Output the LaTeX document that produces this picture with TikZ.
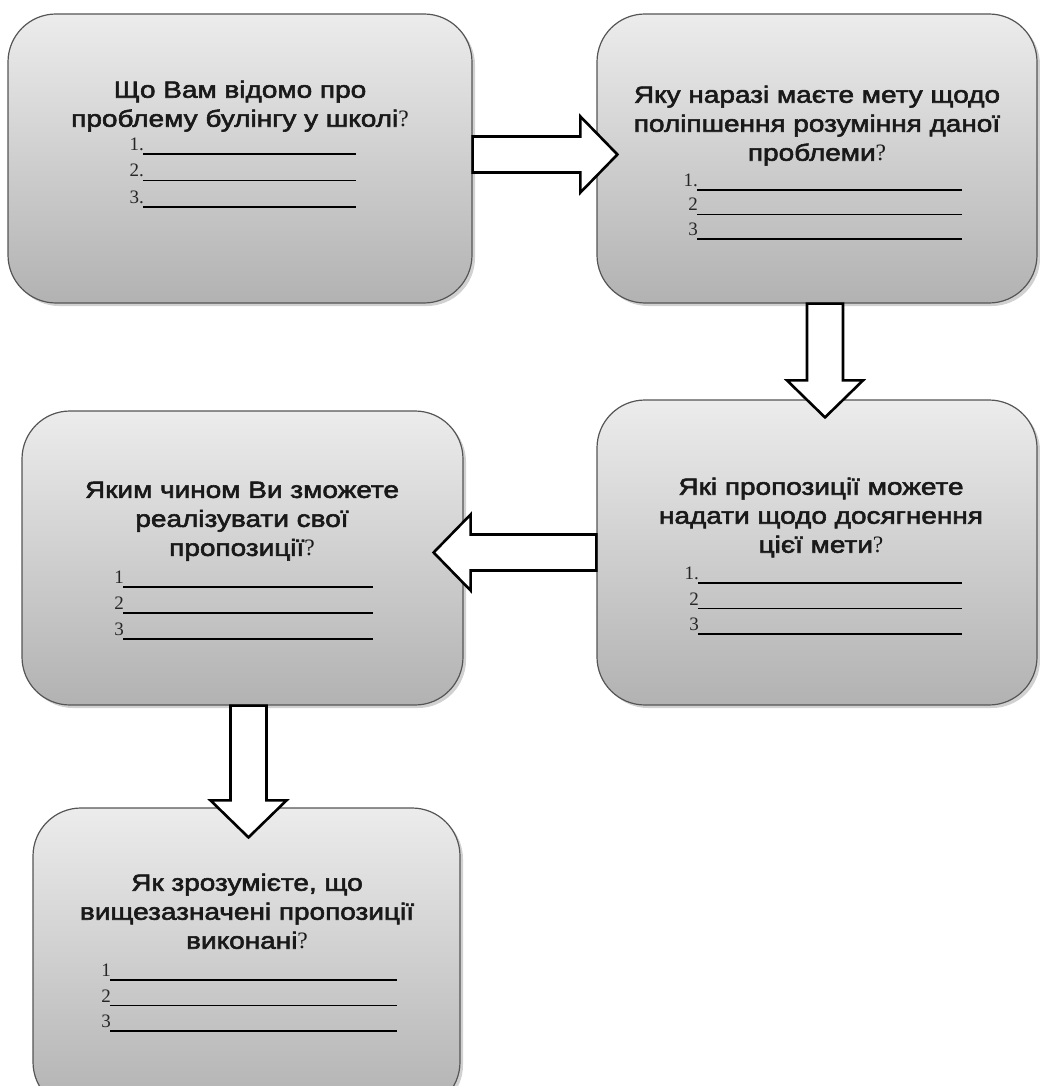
\documentclass[tikz,border=0pt]{standalone}
\usepackage{fontspec}
\setmainfont{Liberation Sans}
\newfontfamily\headfont[FakeStretch=1.19,FakeBold=2.5]{Liberation Sans}
\newfontfamily\numfont{Liberation Serif}
\usepackage{tikz}
\usetikzlibrary{calc,shadows}
\usepackage{xcolor}
\definecolor{boxtop}{RGB}{236,236,236}
\definecolor{boxbot}{RGB}{178,178,178}
\definecolor{boxline}{RGB}{85,85,85}
\tikzset{
  % question box: width, height
  qbox/.style 2 args={rectangle, rounded corners=48pt, draw=boxline, line width=1.2pt,
               top color=boxtop, bottom color=boxbot, minimum width=#1, minimum height=#2,
               drop shadow={shadow xshift=3pt, shadow yshift=-3pt, opacity=0.18, fill=black}},
  % question text
  qtext/.style={font=\headfont\fontsize{23.5}{29}\selectfont, text=black!90, align=center, inner sep=0pt, anchor=north},
  % number in front of an answer line
  numlabel/.style={font=\numfont\fontsize{19}{19}\selectfont, text=black!85, inner sep=0pt, anchor=base east},
  % answer line
  answerline/.style={black, line width=1.2pt},
  % white block arrow
  blockarrow/.style={draw=black, line width=2.6pt, fill=white, line join=miter},
}
\newcommand{\qm}{{\numfont ?}}
% answer lines: name, x from, x to, first y, gap, labels
\newcommand{\answerlines}[6]{%
  \foreach \lab [count=\i] in {#6} {
    \node[numlabel] (#1-\i) at ({#2+1},{#4+(\i-1)*#5-3.5}) {\lab};
    \draw[answerline] (#2,{#4+(\i-1)*#5}) -- (#3,{#4+(\i-1)*#5});
  }
}
% block arrow from tail to tip
\newcommand{\blockarrow}[2]{%
  \draw[blockarrow] let \p1=(#1), \p2=(#2), \n1={atan2(\y2-\y1,\x2-\x1)}, \n2={veclen(\x2-\x1,\y2-\y1)} in
    [shift={(\p1)}, rotate=\n1]
    (0,-18) -- ({\n2-37},-18) -- ({\n2-37},-38) -- (\n2,0) -- ({\n2-37},38) -- ({\n2-37},18) -- (0,18) -- cycle;
}

\begin{document}
\begin{tikzpicture}[x=1pt, y=-1pt]

  \path[use as bounding box, fill=white] (0,0) rectangle (1039,1086);

  % ── Boxes ──
  \node[qbox={464pt}{289pt}] (b1) at (240,158.5) {};
  \node[qbox={440pt}{289pt}] (b2) at (817,158.5) {};
  \node[qbox={440pt}{305pt}] (b3) at (817,552.5) {};
  \node[qbox={441pt}{294pt}] (b4) at (242.5,558) {};
  \node[qbox={427pt}{302pt}] (b5) at (246.5,959) {};

  % ── Questions ──
  \node[qtext] (t1) at (240,80.5) {Що Вам відомо про\\проблему булінгу у школі\qm};
  \answerlines{l1}{143}{356}{154}{26.5}{1.,2.,3.}

  \node[qtext] (t2) at (817,85.5) {Яку наразі маєте мету щодо\\поліпшення розуміння даної\\проблеми\qm};
  \answerlines{l2}{697}{962}{190}{24.5}{1.,2,3}

  \node[qtext] (t3) at (821,477.5) {Які пропозиції можете\\надати щодо досягнення\\цієї мети\qm};
  \answerlines{l3}{698}{962}{583}{25.5}{1.,2,3}

  \node[qtext] (t4) at (242,481.5) {Яким чином Ви зможете\\реалізувати свої\\пропозиції\qm};
  \answerlines{l4}{123}{373}{587}{26}{1,2,3}

  \node[qtext] (t5) at (247,873.5) {Як зрозумієте, що\\вищезазначені пропозиції\\виконані\qm};
  \answerlines{l5}{110}{397}{980}{25.5}{1,2,3}

  % ── Arrows ──
  \blockarrow{$(b1.east)+(0,-4)$}{$(b2.west)+(21,-4)$}
  \blockarrow{$(b2.south)+(8,0)$}{$(b3.north)+(8,18)$}
  \blockarrow{b3.west}{$(b4.east |- b3.west)+(-30,0)$}
  \blockarrow{$(b4.south)+(6,0)$}{$(b4.south |- b5.north)+(6,30)$}

\end{tikzpicture}
\end{document}
